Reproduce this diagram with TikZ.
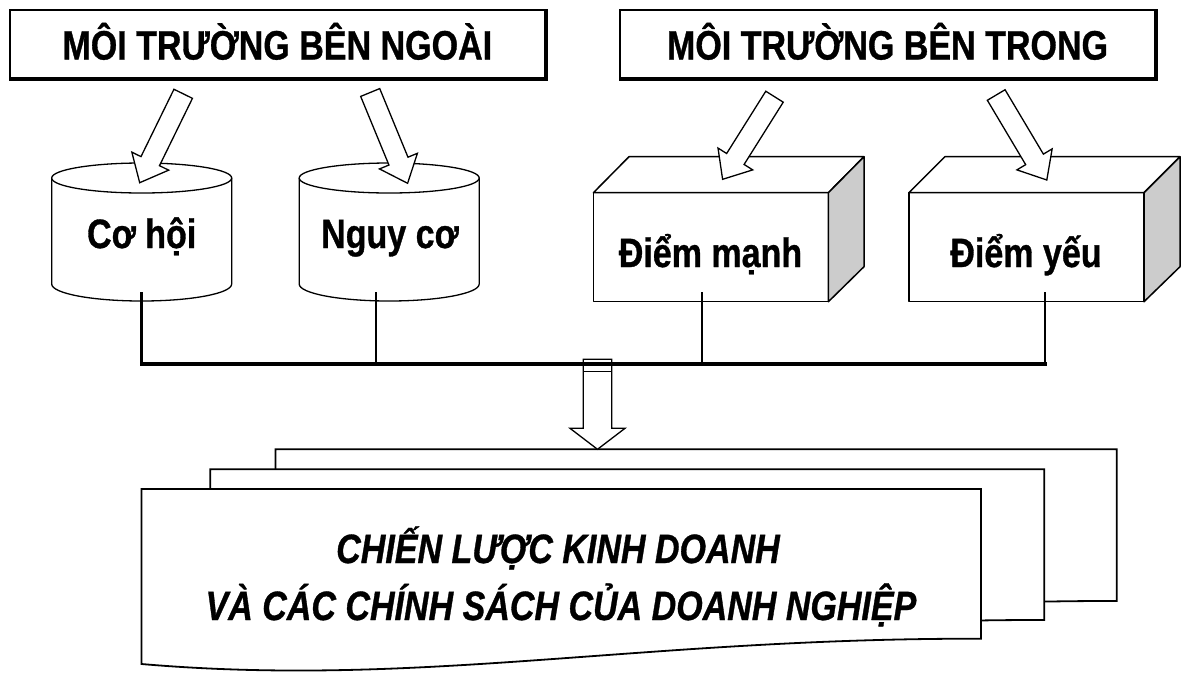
\documentclass[tikz,border=0pt]{standalone}
\usepackage{fontspec}
\newfontfamily\hfont{Liberation Sans}[FakeStretch=0.83, FakeBold=0.8]
\usetikzlibrary{calc}
\definecolor{sidegray}{RGB}{204,204,204}
\tikzset{
  titlebox/.style={draw, line width=2.2pt, minimum width=535pt, minimum height=68pt, inner sep=0pt,
    text height=31pt, text depth=0pt, font=\hfont\bfseries\fontsize{41}{49}\selectfont},
  boxshadow/.style={line width=1.4pt, line cap=rect},
  lbl/.style={anchor=base, inner sep=0pt, font=\hfont\bfseries\fontsize{41}{49}\selectfont},
  doclbl/.style={anchor=base, inner sep=0pt, font=\hfont\bfseries\itshape\fontsize{41}{49}\selectfont},
  shapeline/.style={draw, line width=1.3pt, fill=white, line join=round},
  cubeline/.style={draw, line width=1.5pt, line join=round},
  hollow/.style={draw, line width=1.3pt, fill=white, line join=miter},
  link/.style={line width=2.6pt, line cap=rect},
  bus/.style={line width=3.4pt, line cap=rect},
  docpage/.style={draw, line width=1.8pt, fill=white, line join=miter},
}
% #1 tail, #2 tip, #3 shaft half width, #4 head half width, #5 head length
\newcommand\blockarrow[5]{%
  \path ($(#2)!#5pt!(#1)$) coordinate (#2-hb);
  \draw[hollow]
    ($(#1)!#3pt!90:(#2)$) --
    ($(#2-hb)!#3pt!90:(#2)$) --
    ($(#2-hb)!#4pt!90:(#2)$) --
    (#2) --
    ($(#2-hb)!#4pt!-90:(#2)$) --
    ($(#2-hb)!#3pt!-90:(#2)$) --
    ($(#1)!#3pt!-90:(#2)$) -- cycle;
}
\newcommand\drawcyl[1]{%
  \path[shapeline] (#1-90,-178) -- (#1-90,-284)
    arc[start angle=180, end angle=360, x radius=90, y radius=17]
    -- (#1+90,-178) -- cycle;
  \path[shapeline] (#1,-178) ellipse[x radius=90, y radius=15];
}
% #1 x0, #2 x1, #3 depth
\newcommand\drawcube[3]{%
  \path[cubeline, fill=white] (#1,-192.7) rectangle (#2,-301.7);
  \path[cubeline, fill=white] (#1,-192.7) -- (#1+#3,-156.7) -- (#2+#3,-156.7) -- (#2,-192.7) -- cycle;
  \path[cubeline, fill=sidegray] (#2,-192.7) -- (#2+#3,-156.7) -- (#2+#3,-266.7) -- (#2,-301.7) -- cycle;
}
\begin{document}
\begin{tikzpicture}[x=1pt, y=1pt]
\useasboundingbox (0,0) rectangle (1181,-673);

% title boxes
\node[titlebox] (ext) at (277.3,-44) {MÔI TRƯỜNG BÊN NGOÀI};
\node[titlebox] (int) at (887.5,-44) {MÔI TRƯỜNG BÊN TRONG};
\draw[boxshadow] ([shift={(1pt,-1pt)}]ext.north east) -- ([shift={(1pt,-1pt)}]ext.south east) -- ([shift={(1pt,-1pt)}]ext.south west);
\draw[boxshadow] ([shift={(1pt,-1pt)}]int.north east) -- ([shift={(1pt,-1pt)}]int.south east) -- ([shift={(1pt,-1pt)}]int.south west);

% shapes
\drawcyl{141.7}
\drawcyl{389.2}
\drawcube{593.4}{828.4}{35.6}
\drawcube{908.9}{1144}{36}

% labels
\node[lbl] (cohoi) at (141.7,-248) {Cơ hội};
\node[lbl] (nguyco) at (390,-248) {Nguy cơ};
\node[lbl] (manh) at (710.5,-267) {Điểm mạnh};
\node[lbl] (yeu) at (1026,-267) {Điểm yếu};

% arrows from the environments
\coordinate (a1t) at (183.2,-93.8);  \coordinate (a1h) at (139.7,-182.7);
\coordinate (a2t) at (370.2,-92.5);  \coordinate (a2h) at (407.6,-183.3);
\coordinate (a3t) at (774.5,-96.7);  \coordinate (a3h) at (722.6,-179.3);
\coordinate (a4t) at (996.2,-95);    \coordinate (a4h) at (1046.8,-180);
\blockarrow{a1t}{a1h}{10.3}{20.5}{24}
\blockarrow{a2t}{a2h}{10.3}{20.5}{24}
\blockarrow{a3t}{a3h}{10.3}{20.5}{24}
\blockarrow{a4t}{a4h}{10.3}{20.5}{24}

% document stack
\path[docpage] (275.4,-449.3) -- (1116.7,-449.3) -- (1116.7,-601)
  .. controls (775.1,-600.3) and (554.7,-650.3) .. (275.4,-626.3) -- cycle;
\path[docpage] (210.3,-469.3) -- (1044.3,-469.3) -- (1044.3,-620)
  .. controls (705.7,-619.3) and (487.2,-669.3) .. (210.3,-645.3) -- cycle;
\path[docpage] (141.5,-489) -- (981,-489) -- (981,-638.7)
  .. controls (640.2,-638) and (420.2,-688) .. (141.5,-664) -- cycle;
\node[doclbl] (strat1) at (558,-563) {CHIẾN LƯỢC KINH DOANH};
\node[doclbl] (strat2) at (561,-620) {VÀ CÁC CHÍNH SÁCH CỦA DOANH NGHIỆP};

% down arrow to the documents
\coordinate (dtail) at (597.5,-359.3);
\coordinate (dtip) at (597.5,-449.3);
\blockarrow{dtail}{dtip}{14.2}{27.5}{21}
\draw[hollow] ($(dtail)+(-14.2,-12.4)$) -- ($(dtail)+(14.2,-12.4)$);

% connectors and bus
\coordinate (v1) at (141.6,-293); \coordinate (b1) at (141.6,-364);
\coordinate (v2) at (376,-293);   \coordinate (b2) at (376,-364);
\coordinate (v3) at (702,-293);   \coordinate (b3) at (702,-364);
\coordinate (v4) at (1045,-293);  \coordinate (b4) at (1045,-364);
\draw[link] (v1) -- (b1);
\draw[link] (v2) -- (b2);
\draw[link] (v3) -- (b3);
\draw[link] (v4) -- (b4);
\draw[bus] (b1) -- (b4);
\end{tikzpicture}
\end{document}
